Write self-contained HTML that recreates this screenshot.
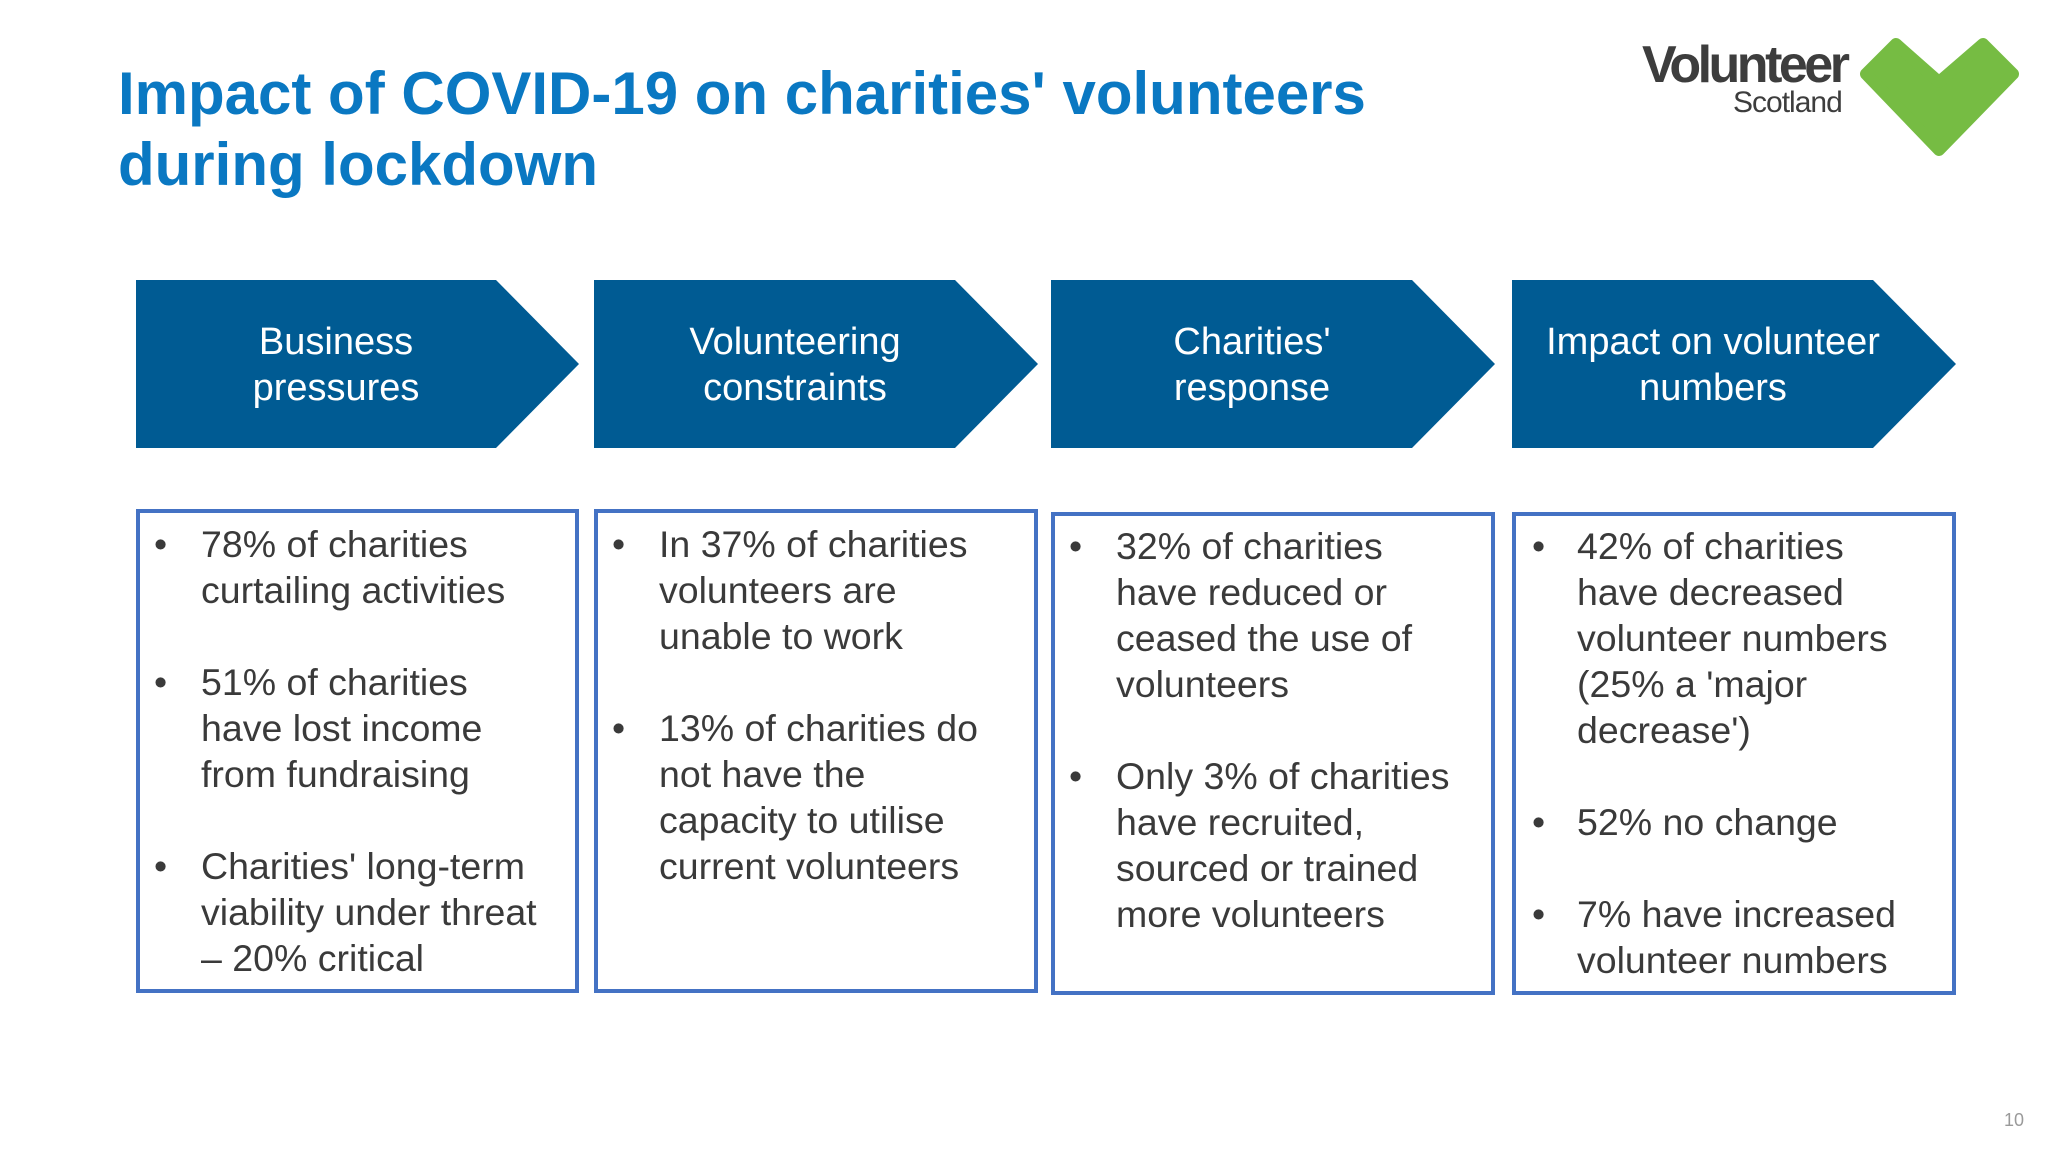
<!DOCTYPE html>
<html><head><meta charset="utf-8"><style>
body{margin:0;width:2048px;height:1152px;background:#fff;position:relative;overflow:hidden;font-family:"Liberation Sans",Arial,sans-serif}
.abs{position:absolute}
.title{left:118px;top:58px;font-size:60px;font-weight:bold;color:#0a78c2;line-height:71px;white-space:nowrap}
.atext{color:#fff;font-size:38px;line-height:46px;text-align:center;top:319px}
.box{border:4px solid #4472c4;box-sizing:border-box}
.item{position:absolute;font-size:37.5px;line-height:46px;color:#3a3a3a;white-space:nowrap;margin-top:-4px}
.bul{position:absolute;font-size:37.5px;line-height:46px;color:#3a3a3a;margin-top:-4px}
</style></head><body>
<div class="abs title">Impact of COVID-19 on charities' volunteers<br>during lockdown</div>

<div class="abs" style="left:1620px;top:20px;width:420px;height:150px">
<div class="abs" style="left:22px;top:19px;font-size:52px;font-weight:bold;color:#3d3d3d;letter-spacing:-3.5px;line-height:52px">Volunteer</div>
<div class="abs" style="left:113px;top:65px;font-size:30px;color:#3d3d3d;letter-spacing:-1px;line-height:36px">Scotland</div>
</div>
<svg class="abs" style="left:0;top:0" width="2048" height="1152">
<polygon points="1866,74 1896,44 1939,82 1983,44 2013,74 1939,150" fill="#76bc43" stroke="#76bc43" stroke-width="12" stroke-linejoin="round"/>
<polygon points="136,280 496,280 579,364 496,448 136,448" fill="#005b93"/>
<polygon points="594,280 955,280 1038,364 955,448 594,448" fill="#005b93"/>
<polygon points="1051,280 1412,280 1495,364 1412,448 1051,448" fill="#005b93"/>
<polygon points="1512,280 1873,280 1956,364 1873,448 1512,448" fill="#005b93"/>
</svg>
<div class="abs atext" style="left:136px;width:400px">Business<br>pressures</div>
<div class="abs atext" style="left:594px;width:402px">Volunteering<br>constraints</div>
<div class="abs atext" style="left:1051px;width:402px">Charities'<br>response</div>
<div class="abs atext" style="left:1512px;width:402px">Impact on volunteer<br>numbers</div>

<div class="abs box" style="left:136px;top:509px;width:443px;height:484px">
<div class="bul" style="left:14px;top:12px">•</div><div class="item" style="left:61px;top:12px">78% of charities<br>curtailing activities</div>
<div class="bul" style="left:14px;top:150px">•</div><div class="item" style="left:61px;top:150px">51% of charities<br>have lost income<br>from fundraising</div>
<div class="bul" style="left:14px;top:334px">•</div><div class="item" style="left:61px;top:334px">Charities' long-term<br>viability under threat<br>– 20% critical</div>
</div>
<div class="abs box" style="left:594px;top:509px;width:444px;height:484px">
<div class="bul" style="left:14px;top:12px">•</div><div class="item" style="left:61px;top:12px">In 37% of charities<br>volunteers are<br>unable to work</div>
<div class="bul" style="left:14px;top:196px">•</div><div class="item" style="left:61px;top:196px">13% of charities do<br>not have the<br>capacity to utilise<br>current volunteers</div>
</div>
<div class="abs box" style="left:1051px;top:512px;width:444px;height:483px">
<div class="bul" style="left:14px;top:11px">•</div><div class="item" style="left:61px;top:11px">32% of charities<br>have reduced or<br>ceased the use of<br>volunteers</div>
<div class="bul" style="left:14px;top:241px">•</div><div class="item" style="left:61px;top:241px">Only 3% of charities<br>have recruited,<br>sourced or trained<br>more volunteers</div>
</div>
<div class="abs box" style="left:1512px;top:512px;width:444px;height:483px">
<div class="bul" style="left:16px;top:11px">•</div><div class="item" style="left:61px;top:11px">42% of charities<br>have decreased<br>volunteer numbers<br>(25% a 'major<br>decrease')</div>
<div class="bul" style="left:16px;top:287px">•</div><div class="item" style="left:61px;top:287px">52% no change</div>
<div class="bul" style="left:16px;top:379px">•</div><div class="item" style="left:61px;top:379px">7% have increased<br>volunteer numbers</div>
</div>
<div class="abs" style="left:2004px;top:1110px;font-size:18px;color:#9a9a9a">10</div>
</body></html>
